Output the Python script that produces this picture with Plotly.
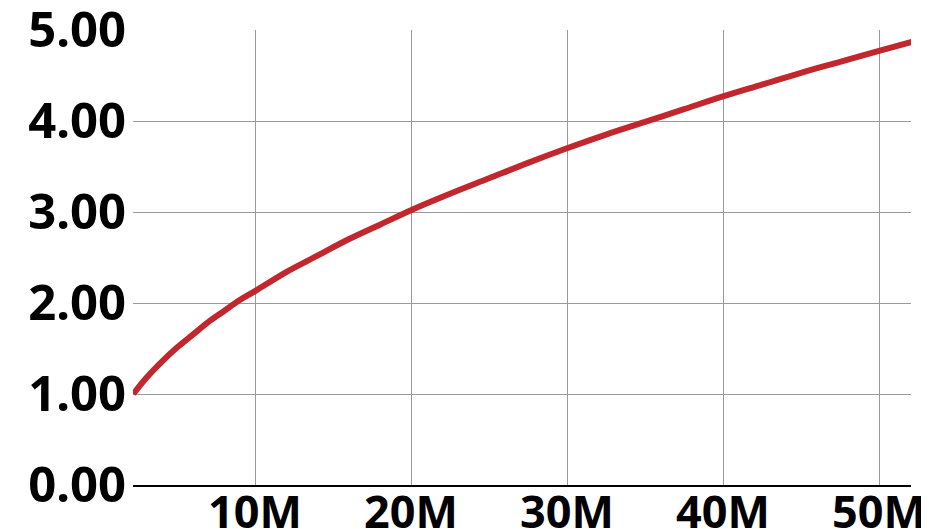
import plotly.graph_objects as go

# x values in millions, y values
x_millions = [2.2, 3, 4, 5, 6, 7, 8, 9, 10, 12, 14, 16, 18, 20, 22.5, 25, 27.5,
              30, 32.5, 35, 37.5, 40, 42.5, 45, 47.5, 50, 52.1]
y_values = [1.00, 1.17, 1.35, 1.51, 1.65, 1.79, 1.91, 2.03, 2.13, 2.34, 2.52, 2.70,
            2.86, 3.02, 3.20, 3.37, 3.54, 3.70, 3.85, 3.99, 4.13, 4.27, 4.40, 4.53,
            4.65, 4.77, 4.87]
x_tick_vals_m = [10, 20, 30, 40, 50]
x_tick_text = ["10M", "20M", "30M", "40M", "50M"]
y_tick_vals = [0, 1, 2, 3, 4, 5]
y_tick_text = ["0.00", "1.00", "2.00", "3.00", "4.00", "5.00"]

x_vals = [v * 1e6 for v in x_millions]

fig = go.Figure()
fig.add_trace(go.Scatter(
    x=x_vals, y=y_values, mode="lines",
    line=dict(color="#c1272d", width=6, shape="spline"),
    cliponaxis=False, hoverinfo="skip",
))

xfont = dict(family="Noto Sans", size=45, color="black", weight="bold")
yfont = dict(family="Noto Sans", size=49, color="black", weight="bold")

fig.update_layout(
    width=921, height=521,
    margin=dict(l=125, r=18, t=22, b=44),
    paper_bgcolor="white", plot_bgcolor="white",
    showlegend=False,
    xaxis=dict(
        range=[2.18e6, 52.05e6],
        tickvals=[v * 1e6 for v in x_tick_vals_m], ticktext=x_tick_text,
        tickfont=xfont, showgrid=True, gridcolor="#9a9a9a", gridwidth=1,
        showline=True, linecolor="black", linewidth=2,
        zeroline=False, ticks="", ticklabelstandoff=-13, automargin=False,
        ticklabeloverflow="allow",
    ),
    yaxis=dict(
        range=[0, 5], tickvals=y_tick_vals, ticktext=y_tick_text,
        tickfont=yfont, showgrid=True, gridcolor="#9a9a9a", gridwidth=1,
        showline=False, zeroline=False, ticks="", ticklabelstandoff=6,
        automargin=False, ticklabeloverflow="allow",
    ),
)

fig.write_html("out.html")
